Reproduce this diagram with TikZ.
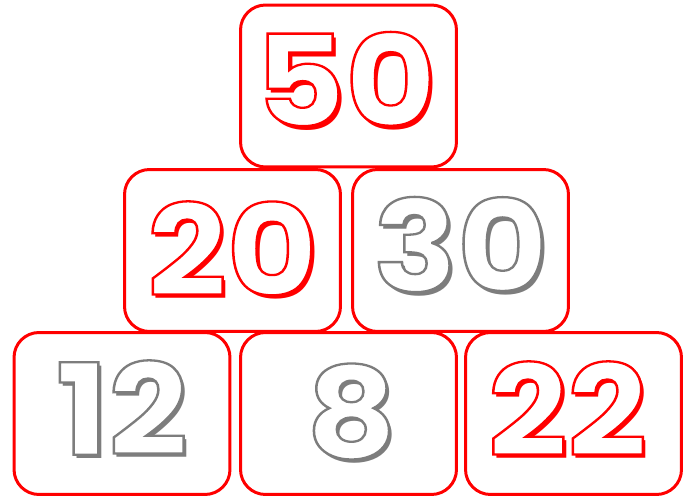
\documentclass[tikz,border=0pt]{standalone}
\usepackage{fontspec}
\newfontfamily\numfont{Poppins}
\definecolor{numred}{RGB}{255,0,0}
\definecolor{numgray}{RGB}{125,125,125}
% outlined text: white fill, stroke in the given rgb, shadow behind it
\newcommand{\outlined}[2]{\special{pdf:literal direct 2 Tr 1.3 w #1 RG}#2\special{pdf:literal direct 0 Tr}}
\newcommand{\bubblenum}[3]{\makebox[0pt][l]{\kern0.06cm\raisebox{-0.08cm}{\textcolor{#1}{#3}}}\outlined{#2}{#3}}

\begin{document}
\begin{tikzpicture}[x=0.02cm,y=-0.02cm,line width=1.7pt]
\tikzset{brick/.style={draw=numred,fill=white,rounded corners=0.5cm,
  minimum width=4.32cm,minimum height=3.24cm,inner sep=0pt},
  num/.style={font=\numfont\bfseries\fontsize{72}{72}\selectfont,inner sep=0pt,
  text=white,xscale=1.1,transform shape}}
\useasboundingbox[fill=white] (0,0) rectangle (687,500);
% ---- pyramid of bricks, each with its outlined number ----
\foreach \n/\x/\y/\dx/\dy/\t/\c/\s in {b12/122/413.5/0/-4/12/numgray/0.49 0.49 0.49,
  b8/348.5/413.5/3/0/8/numgray/0.49 0.49 0.49,b22/573.5/413.5/-6/-3/22/numred/1 0 0,
  b20/232.5/250.5/0/0/20/numred/1 0 0,b30/460.5/250.5/0/-4/30/numgray/0.49 0.49 0.49,
  b50/348.5/86/-3/-5/50/numred/1 0 0}{
  \node[brick] (\n) at (\x,\y) {};
  \node[num] (\n t) at ([shift={(\dx,\dy)}]\n.center) {\bubblenum{\c}{\s}{\t}};
}
\end{tikzpicture}
\end{document}
